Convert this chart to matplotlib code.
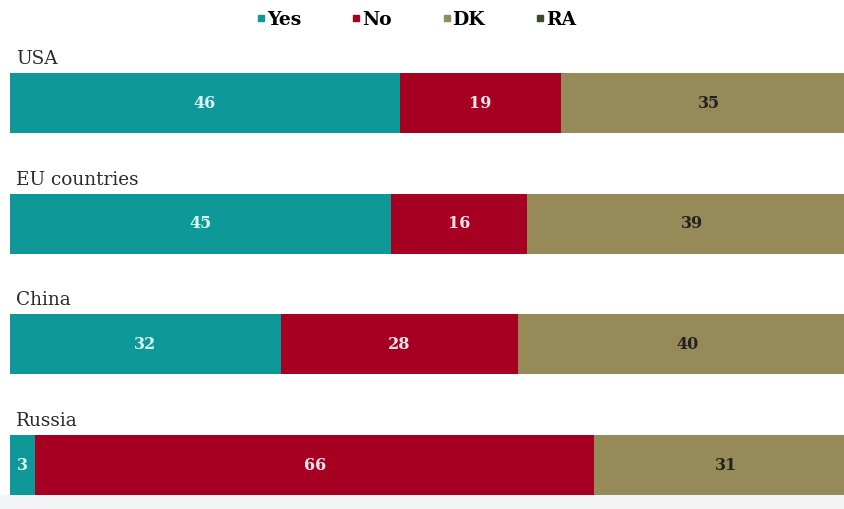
import numpy as np
import matplotlib.pyplot as plt
from matplotlib.lines import Line2D
from matplotlib.patches import Rectangle

# Datos
paises = ['USA', 'EU countries', 'China', 'Russia']
si = [46, 45, 32, 3]
no = [19, 16, 28, 66]
nose = [35, 39, 40, 31]
nr = [0, 0, 0, 0]

series = ['Yes', 'No', 'DK', 'RA']
colores = ['#0f9898', '#a50021', '#958a58', '#3a4a2e']
texto_color = ['#d8f4f4', '#f8e6ea', '#222222', '#ffffff']

plt.rcParams['font.family'] = ['DejaVu Serif']

fig = plt.figure(figsize=(8.45, 5.09), dpi=100)
fig.patch.set_facecolor('white')
# franja gris abajo
fig.patches.append(Rectangle((0, 0), 1, 14 / 509, transform=fig.transFigure,
                             facecolor='#f2f3f4', edgecolor='none', zorder=0))

ax = fig.add_axes([10 / 845, 0, 840 / 845, 1])
ax.patch.set_alpha(0)

valores = [si, no, nose, nr]
y = np.arange(len(paises))
izq = np.zeros(len(paises))
for vals, col, tc in zip(valores, colores, texto_color):
    vals = np.array(vals, dtype=float)
    ax.barh(y, vals, left=izq, height=0.497, color=col)
    for yi, v, l in zip(y, vals, izq):
        if v > 0:
            ax.text(l + v / 2, yi, f'{int(v)}', ha='center', va='center',
                    color=tc, fontsize=11.5, fontweight='bold')
    izq += vals

for yi, p in zip(y, paises):
    ax.text(0.7, yi - 0.323, p, ha='left', va='baseline', fontsize=13.3,
            color='#2b2b2b')

ax.set_xlim(0, 840 / 8.47)
ax.set_ylim((509 - 103) / 120.67, -103 / 120.67)
ax.axis('off')

# Leyenda
manijas = [Line2D([], [], marker='s', linestyle='none', color=c, markersize=4.5)
           for c in colores]
fig.legend(manijas, series, loc='center', bbox_to_anchor=(0.492, 1 - 20 / 509),
           ncol=4, frameon=False, handletextpad=0.0, columnspacing=2.65,
           handlelength=0.6, prop={'size': 13.5, 'weight': 'bold'})

fig.savefig('out.png', dpi=100)
